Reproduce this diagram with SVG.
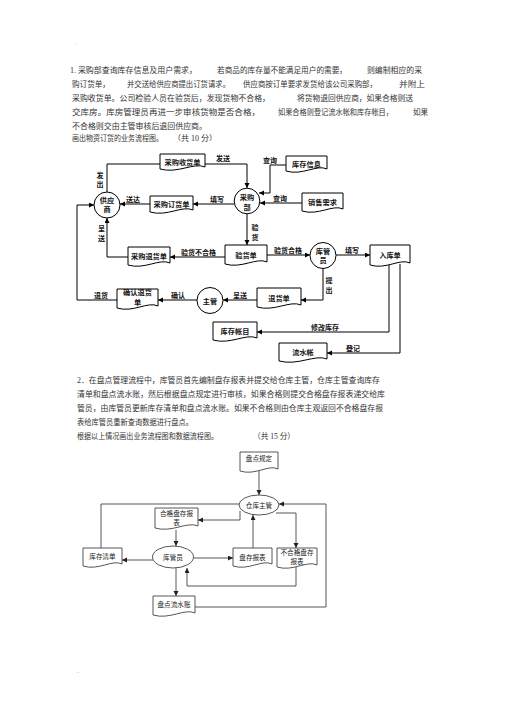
<svg xmlns="http://www.w3.org/2000/svg" width="505" height="714" viewBox="0 0 505 714">
<defs>
<marker id="ah" markerUnits="userSpaceOnUse" markerWidth="6" markerHeight="6" refX="5" refY="2.5" orient="auto"><path d="M0,0 L5,2.5 L0,5 Z" fill="#000"/></marker>
<marker id="ah2" markerUnits="userSpaceOnUse" markerWidth="6" markerHeight="6" refX="5" refY="2.5" orient="auto"><path d="M0,0 L5,2.5 L0,5 Z" fill="#222"/></marker>
<style>
.p{font-family:"Liberation Serif","Noto Sans CJK SC",serif;font-size:7.6px;fill:#333}
.p2{font-family:"Liberation Serif","Noto Sans CJK SC",serif;font-size:7.8px;fill:#333}
.d{fill:#fff;stroke:#000;stroke-width:1}
.c{fill:#fff;stroke:#000;stroke-width:1}
.t{font-family:"Noto Sans CJK SC",sans-serif;font-size:7.2px;font-weight:700;fill:#111;text-anchor:middle}
.l{font-family:"Noto Sans CJK SC",sans-serif;font-size:7px;font-weight:700;fill:#111;text-anchor:middle}
.k{fill:none;stroke:#000;stroke-width:1}
.d2{fill:#fff;stroke:#444;stroke-width:0.9}
.k2{fill:none;stroke:#444;stroke-width:0.9}
.t2{font-family:"Noto Sans CJK SC",sans-serif;font-size:6.6px;fill:#222;text-anchor:middle}
.dot{font-family:"Liberation Sans",sans-serif;font-size:6px;fill:#999}
</style>
</defs>
<rect width="505" height="714" fill="#fff"/>
<text class="dot" x="76" y="45">.</text>
<text class="dot" x="76" y="673">..</text>

<g id="para1">
<text class="p" x="70" y="73" textLength="127" lengthAdjust="spacingAndGlyphs">1. 采购部查询库存信息及用户需求，</text>
<text class="p" x="217" y="73" textLength="130" lengthAdjust="spacingAndGlyphs">若商品的库存量不能满足用户的需要，</text>
<text class="p" x="367" y="73" textLength="55" lengthAdjust="spacingAndGlyphs">则编制相应的采</text>
<text class="p" x="72" y="87">购订货单，</text>
<text class="p" x="127" y="87" textLength="103" lengthAdjust="spacingAndGlyphs">并交送给供应商提出订货请求。</text>
<text class="p" x="243" y="87" textLength="134" lengthAdjust="spacingAndGlyphs">供应商按订单要求发货给该公司采购部，</text>
<text class="p" x="399" y="87" textLength="26" lengthAdjust="spacingAndGlyphs">并附上</text>
<text class="p" x="72" y="101" textLength="198" lengthAdjust="spacingAndGlyphs">采购收货单。公司检验人员在验货后，发现货物不合格，</text>
<text class="p" x="297" y="101" textLength="116" lengthAdjust="spacingAndGlyphs">将货物退回供应商，如果合格则送</text>
<text class="p" x="72" y="115" textLength="188" lengthAdjust="spacingAndGlyphs">交库房。库房管理员再进一步审核货物是否合格，</text>
<text class="p" x="278" y="115" textLength="115" lengthAdjust="spacingAndGlyphs">如果合格则登记流水帐和库存帐目，</text>
<text class="p" x="413" y="115">如果</text>
<text class="p" x="72" y="128.5" textLength="135" lengthAdjust="spacingAndGlyphs">不合格则交由主管审核后退回供应商。</text>
<text class="p" x="72" y="141" textLength="91" lengthAdjust="spacingAndGlyphs">画出物资订货的业务流程图。</text>
<text class="p" x="173" y="141" textLength="44" lengthAdjust="spacingAndGlyphs">（共 10 分）</text>
</g>

<g id="diagram1-connectors">
<polyline class="k" points="107,192 107,164 160,164"/>
<polyline class="k" points="205,164 247,164 247,188" marker-end="url(#ah)"/>
<polyline class="k" points="286,165 270,165 270,193 259,193" marker-end="url(#ah)"/>
<line class="k" x1="302" y1="203" x2="260" y2="203" marker-end="url(#ah)"/>
<line class="k" x1="234" y1="204" x2="193" y2="204" marker-end="url(#ah)"/>
<line class="k" x1="150" y1="204" x2="120" y2="204" marker-end="url(#ah)"/>
<line class="k" x1="247" y1="214" x2="247" y2="245" marker-end="url(#ah)"/>
<line class="k" x1="225" y1="257" x2="170" y2="257" marker-end="url(#ah)"/>
<polyline class="k" points="128,257 107,257 107,218" marker-end="url(#ah)"/>
<line class="k" x1="267" y1="255" x2="310" y2="255" marker-end="url(#ah)"/>
<line class="k" x1="336" y1="255" x2="370" y2="255" marker-end="url(#ah)"/>
<polyline class="k" points="323,268 323,300 301,300" marker-end="url(#ah)"/>
<line class="k" x1="257" y1="300" x2="223" y2="300" marker-end="url(#ah)"/>
<line class="k" x1="197" y1="300" x2="158" y2="300" marker-end="url(#ah)"/>
<polyline class="k" points="117,300 77,300 77,205 94,205" marker-end="url(#ah)"/>
<polyline class="k" points="389,265 389,332 257,332" marker-end="url(#ah)"/>
<polyline class="k" points="400,264 400,353 327,353" marker-end="url(#ah)"/>
<text class="l" x="100" y="177.5">发</text>
<text class="l" x="100" y="186.5">出</text>
<text class="l" x="223" y="161">发送</text>
<text class="l" x="270" y="162.5">查询</text>
<text class="l" x="280" y="201">查询</text>
<text class="l" x="217" y="202">填写</text>
<text class="l" x="133" y="202">送达</text>
<text class="l" x="255" y="229.5">验</text>
<text class="l" x="255" y="239.5">货</text>
<text class="l" x="101.5" y="230.5">呈</text>
<text class="l" x="101.5" y="240.5">送</text>
<text class="l" x="198.5" y="254.5">验货不合格</text>
<text class="l" x="288" y="253">验货合格</text>
<text class="l" x="352" y="253">填写</text>
<text class="l" x="329" y="282.5">提</text>
<text class="l" x="329" y="292.5">出</text>
<text class="l" x="240" y="297.5">呈送</text>
<text class="l" x="178" y="297.5">确认</text>
<text class="l" x="101" y="297.5">退货</text>
<text class="l" x="325" y="329.5">修改库存</text>
<text class="l" x="353" y="351">登记</text>
</g>

<g id="n-caigoushouhuodan"><path class="d" d="M160,154 H205 V167 C193.75,162 178,174 160,169 Z"/><text class="t" x="182.5" y="165">采购收货单</text></g>
<g id="n-caigoudinghuodan"><path class="d" d="M150,196 H193 V210 C182.25,205 167.2,217 150,212 Z"/><text class="t" x="171.5" y="207">采购订货单</text></g>
<g id="n-kucunxinxi"><path class="d" d="M286,156 H327 V169 C316.75,164 302.4,176 286,171 Z"/><text class="t" x="306.5" y="166.5">库存信息</text></g>
<g id="n-xiaoshouxuqiu"><path class="d" d="M302,193 H343 V209 C332.75,204 318.4,216 302,211 Z"/><text class="t" x="322.5" y="205">销售需求</text></g>
<g id="n-caigoutuihuodan"><path class="d" d="M128,247 H170 V263 C159.5,258 144.8,270 128,265 Z"/><text class="t" x="149" y="259">采购退货单</text></g>
<g id="n-yanhuodan"><path class="d" d="M225,245 H267 V262 C256.5,257 241.8,269 225,264 Z"/><text class="t" x="246" y="257.5">验货单</text></g>
<g id="n-rukudan"><path class="d" d="M370,245 H410 V263 C400,258 386,270 370,265 Z"/><text class="t" x="390" y="258">入库单</text></g>
<g id="n-tuihuodan"><path class="d" d="M257,288 H301 V305 C290,300 274.6,312 257,307 Z"/><text class="t" x="279" y="301">退货单</text></g>
<g id="n-querentuihuodan"><path class="d" d="M117,289 H158 V306 C147.75,301 133.4,313 117,308 Z"/><text class="t" x="137.5" y="294.5">确认退货</text><text class="t" x="137.5" y="305">单</text></g>
<g id="n-kucunzhangmu"><path class="d" d="M213,322 H257 V338 C246,333 230.6,345 213,340 Z"/><text class="t" x="235" y="334">库存帐目</text></g>
<g id="n-liushuizhang"><path class="d" d="M279,343 H327 V359 C315,354 298.2,366 279,361 Z"/><text class="t" x="303" y="355">流水帐</text></g>
<g id="n-gongyingshang"><circle class="c" cx="107" cy="205" r="13"/><text class="t" x="107" y="202.5">供应</text><text class="t" x="107" y="211.5">商</text></g>
<g id="n-caigoubu"><circle class="c" cx="247" cy="201" r="12.8"/><text class="t" x="247" y="199.5">采购</text><text class="t" x="247" y="209.5">部</text></g>
<g id="n-kuguanyuan1"><circle class="c" cx="323" cy="255.5" r="13"/><text class="t" x="323" y="253.5">库管</text><text class="t" x="323" y="262.5">员</text></g>
<g id="n-zhuguan"><circle class="c" cx="210" cy="300.5" r="13"/><text class="t" x="210" y="303.5">主管</text></g>

<g id="para2">
<text class="p2" x="77" y="383" textLength="303" lengthAdjust="spacingAndGlyphs">2．在盘点管理流程中，库管员首先编制盘存报表并提交给仓库主管，仓库主管查询库存</text>
<text class="p2" x="77" y="397" textLength="308" lengthAdjust="spacingAndGlyphs">清单和盘点流水账，然后根据盘点规定进行审核，如果合格则提交合格盘存报表递交给库</text>
<text class="p2" x="77" y="411" textLength="306" lengthAdjust="spacingAndGlyphs">管员，由库管员更新库存清单和盘点流水账。如果不合格则由仓库主观返回不合格盘存报</text>
<text class="p2" x="77" y="425" textLength="116" lengthAdjust="spacingAndGlyphs">表给库管员重新查询数据进行盘点。</text>
<text class="p2" x="77" y="439" textLength="141" lengthAdjust="spacingAndGlyphs">根据以上情况画出业务流程图和数据流程图。</text>
<text class="p2" x="253" y="439" textLength="42" lengthAdjust="spacingAndGlyphs">（共 15 分）</text>
</g>

<g id="diagram2-connectors">
<line class="k2" x1="259" y1="471" x2="259" y2="495" marker-end="url(#ah2)"/>
<polyline class="k2" points="101,548 101,504 239,504"/>
<polyline class="k2" points="240,511 240,520 198,520" marker-end="url(#ah2)"/>
<line class="k2" x1="176" y1="530" x2="176" y2="546" marker-end="url(#ah2)"/>
<line class="k2" x1="153" y1="560" x2="122" y2="560" marker-end="url(#ah2)"/>
<line class="k2" x1="194" y1="558" x2="233" y2="558" marker-end="url(#ah2)"/>
<line class="k2" x1="253" y1="548" x2="253" y2="515" marker-end="url(#ah2)"/>
<polyline class="k2" points="276,513 296,513 296,548" marker-end="url(#ah2)"/>
<polyline class="k2" points="296,567 296,586 187,586 187,568" marker-end="url(#ah2)"/>
<line class="k2" x1="176" y1="568" x2="176" y2="596" marker-end="url(#ah2)"/>
<polyline class="k2" points="195,607 326,607 326,504 279,504" marker-end="url(#ah2)"/>
</g>

<g id="n-pandianguiding"><path class="d2" d="M240,452 H278 V469 C268.5,464 255.2,476 240,471 Z"/><text class="t2" x="259" y="461">盘点规定</text></g>
<g id="n-cangkuzhuguan"><ellipse class="d2" cx="259" cy="505" rx="20" ry="10"/><text class="t2" x="259" y="507.5">仓库主管</text></g>
<g id="n-hegepancunbaobiao"><path class="d2" d="M155,508 H198 V526 C187.25,521 172.2,533 155,528 Z"/><text class="t2" x="176.5" y="516">合格盘存报</text><text class="t2" x="176.5" y="524.5">表</text></g>
<g id="n-kucunqingdan"><path class="d2" d="M83,548 H122 V564 C112.25,559 98.6,571 83,566 Z"/><text class="t2" x="102.5" y="559">库存清单</text></g>
<g id="n-kuguanyuan2"><ellipse class="d2" cx="173" cy="557" rx="20.5" ry="11"/><text class="t2" x="173" y="559.5">库管员</text></g>
<g id="n-pancunbaobiao"><path class="d2" d="M233,548 H272 V564 C262.25,559 248.6,571 233,566 Z"/><text class="t2" x="252.5" y="559.5">盘存报表</text></g>
<g id="n-buhegepancunbaobiao"><path class="d2" d="M277,548 H317 V565 C307,560 293,572 277,567 Z"/><text class="t2" x="297" y="555">不合格盘存</text><text class="t2" x="297" y="564">报表</text></g>
<g id="n-pandianliushuizhang"><path class="d2" d="M153,596 H195 V613 C184.5,608 169.8,620 153,615 Z"/><text class="t2" x="174" y="606.5">盘点流水账</text></g>
</svg>
